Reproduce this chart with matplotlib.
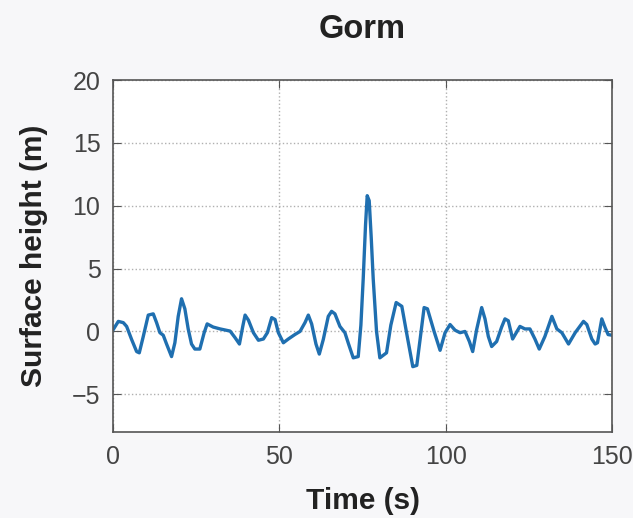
import matplotlib.pyplot as plt
import numpy as np

# surface elevation
time_s = [0.1, 1.6, 3.1, 4.1, 5.6, 7.1, 7.9, 9.1, 10.6, 12.1, 13.1, 14.1, 15.1, 16.1,
          17.6, 18.6, 19.6, 20.6, 21.6, 22.6, 23.6, 24.6, 26.1, 27.4, 28.3, 30.1,
          32.2, 35.2, 36.7, 38.0, 39.0, 39.7, 40.7, 42.2, 43.7, 45.2, 46.4, 47.7,
          48.7, 49.7, 51.2, 52.7, 54.7, 56.2, 57.7, 58.7, 59.7, 61.0, 62.0, 63.2,
          64.7, 65.7, 66.7, 68.2, 69.7, 70.8, 72.2, 73.7, 74.5, 75.2, 75.9, 76.4,
          77.0, 77.6, 78.2, 79.2, 80.2, 82.2, 83.5, 85.1, 86.8, 88.5, 90.1, 91.3,
          92.5, 93.5, 94.5, 96.5, 98.3, 99.8, 101.3, 102.8, 104.3, 105.8, 107.1,
          108.1, 109.3, 110.8, 111.8, 112.8, 113.8, 115.3, 116.8, 117.8, 118.8,
          120.1, 122.3, 123.8, 125.3, 126.8, 128.1, 129.8, 131.9, 133.4, 134.9,
          136.9, 138.9, 141.4, 142.4, 143.9, 144.9, 145.6, 146.9, 147.9, 148.8, 150]
height_m = [0.16, 0.8, 0.7, 0.4, -0.64, -1.6, -1.7, -0.4, 1.3, 1.4, 0.7, -0.1, -0.3, -1.0,
            -2.0, -0.9, 1.2, 2.6, 1.8, 0.2, -1.0, -1.4, -1.4, -0.1, 0.6, 0.35,
            0.2, 0.03, -0.5, -1.0, 0.4, 1.3, 0.9, -0.1, -0.7, -0.6, -0.1, 1.1,
            0.95, -0.1, -0.9, -0.6, -0.24, 0.0, 0.7, 1.3, 0.6, -1.0, -1.8, -0.64,
            1.2, 1.6, 1.4, 0.4, -0.1, -1.0, -2.1, -2.0, 0.5, 4.2, 8.5, 10.8,
            10.4, 7.5, 4.2, 0.0, -2.1, -1.7, 0.5, 2.3, 2.0, -0.5, -2.8, -2.7,
            -0.2, 1.9, 1.8, 0.0, -1.5, -0.1, 0.55, 0.1, -0.1, 0.0, -0.8,
            -1.6, 0.16, 1.9, 1.0, -0.4, -1.2, -0.8, 0.35, 1.0, 0.85,
            -0.6, 0.4, 0.2, 0.2, -0.6, -1.4, -0.4, 1.2, 0.2, -0.1,
            -1.0, -0.1, 0.8, 0.55, -0.6, -1.0, -0.9, 1.0, 0.3, -0.25, -0.3]

x_ticks = [0, 50, 100, 150]
y_ticks = [-5, 0, 5, 10, 15, 20]

plt.rcParams.update({
    'font.family': 'Liberation Sans',
    'font.size': 18,
})

fig = plt.figure(figsize=(6.33, 5.18), dpi=100, facecolor='#f7f7f9')
ax = fig.add_axes([0.1785, 0.166, 0.7885, 0.6795])
ax.set_facecolor('white')

ax.plot(time_s, height_m, color='#1f6fb0', linewidth=2.4, solid_joinstyle='round')

ax.set_xlim(0, 150)
ax.set_ylim(-8, 20)
ax.set_xticks(x_ticks)
ax.set_yticks(y_ticks)
ax.set_yticklabels(['\u22125', '0', '5', '10', '15', '20'])
ax.grid(True, linestyle=':', color='#b0b0b0', linewidth=1.0)
ax.tick_params(direction='in', top=True, right=True, length=6, colors='#555555',
               labelcolor='#444444', labelsize=18, pad=9)
for s in ax.spines.values():
    s.set_color('#555555')
    s.set_linewidth(1.2)

ax.set_xlabel('Time (s)', fontweight='bold', fontsize=21.5, labelpad=13, color='#222222')
ax.set_ylabel('Surface height (m)', fontweight='bold', fontsize=21.5, labelpad=17, color='#222222')
ax.set_title('Gorm', fontweight='bold', fontsize=23.5, pad=30, color='#222222')

plt.savefig('out.png', dpi=100, facecolor=fig.get_facecolor())
